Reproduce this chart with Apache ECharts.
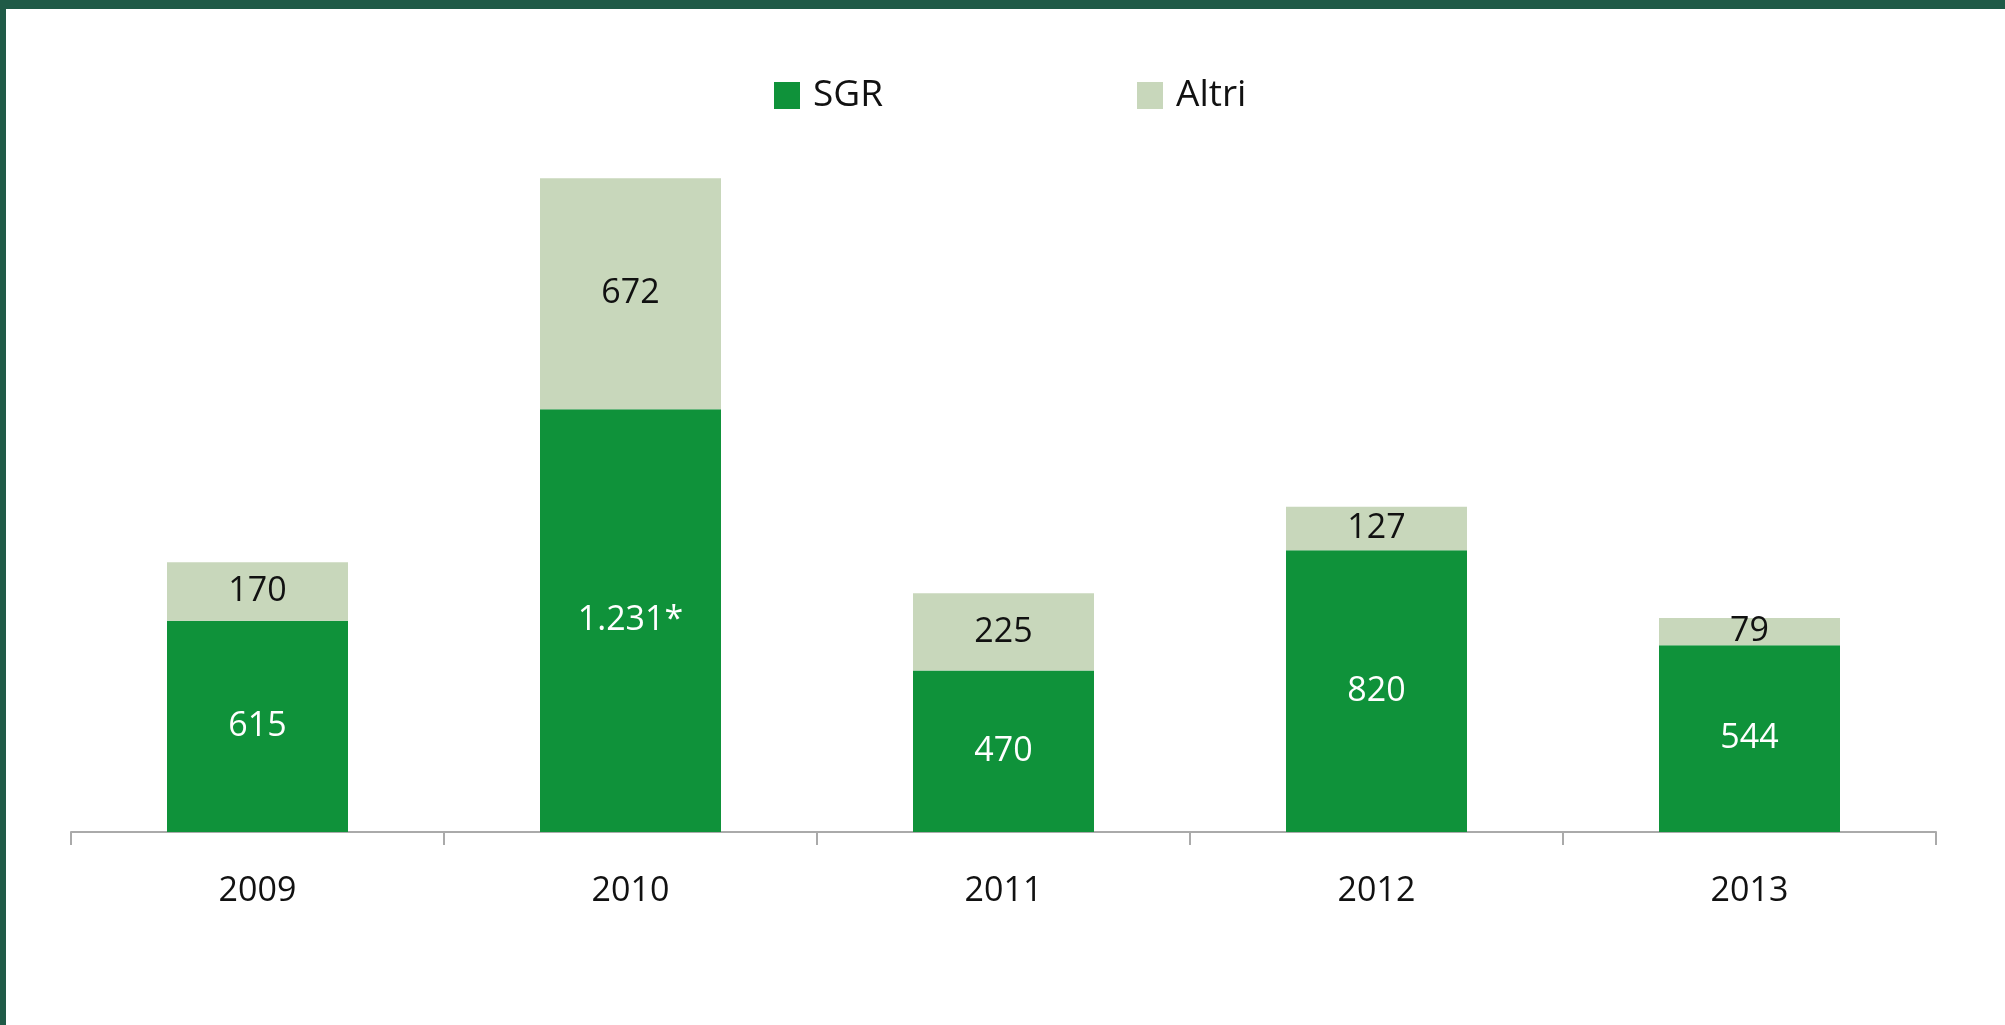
<!DOCTYPE html>
<html>
<head>
<meta charset="utf-8">
<script src="https://cdn.jsdelivr.net/npm/echarts@6/dist/echarts.min.js"></script>
<style>
    html, body { margin: 0; padding: 0; background: #fff; }
    #chart { position: absolute; left: 0; top: 0; width: 2005px; height: 1025px; }
    .edgeTop { position: absolute; left: 0; top: 0; width: 2005px; height: 9px; background: #1f5a47; }
    .edgeLeft { position: absolute; left: 0; top: 0; width: 6px; height: 1025px; background: #1f5a47; }
</style>
</head>
<body>
<div id="chart"></div>
<div class="edgeTop"></div>
<div class="edgeLeft"></div>
<script>
    var years = ['2009', '2010', '2011', '2012', '2013'];
    var sgrValues = [615, 1231, 470, 820, 544];
    var altriValues = [170, 672, 225, 127, 79];
    var sgrLabels = ['615', '1.231*', '470', '820', '544'];

    var chart = echarts.init(document.getElementById('chart'));
    var font = '"Open Sans", "DejaVu Sans", sans-serif';

    var option = {
        animation: false,
        legend: {
            data: ['SGR', 'Altri'],
            left: 769,
            top: 72,
            itemWidth: 26,
            itemHeight: 27,
            itemGap: 254,
            icon: 'rect',
            textStyle: {
                fontFamily: font,
                fontSize: 37,
                color: '#111',
                padding: [0, 0, 0, 8]
            }
        },
        grid: {
            left: 71,
            right: 69,
            top: 145,
            bottom: 193
        },
        xAxis: {
            type: 'category',
            data: years,
            axisLine: {
                lineStyle: { color: '#aaaaaa', width: 2 }
            },
            axisTick: {
                show: true,
                length: 13,
                lineStyle: { color: '#aaaaaa', width: 2 }
            },
            axisLabel: {
                margin: 42,
                fontFamily: font,
                fontSize: 34,
                color: '#111'
            }
        },
        yAxis: {
            type: 'value',
            min: 0,
            max: 2000,
            show: false,
            splitLine: { show: false }
        },
        series: [{
            name: 'SGR',
            type: 'bar',
            stack: 'tot',
            barWidth: 181,
            data: sgrValues,
            itemStyle: { color: '#0f923a' },
            label: {
                show: true,
                position: 'inside',
                fontFamily: font,
                fontSize: 34,
                color: '#ffffff',
                formatter: function(p) {
                    return sgrLabels[p.dataIndex];
                }
            }
        }, {
            name: 'Altri',
            type: 'bar',
            stack: 'tot',
            barWidth: 181,
            data: altriValues,
            itemStyle: { color: '#c8d7bb' },
            label: {
                show: true,
                position: 'inside',
                fontFamily: font,
                fontSize: 34,
                color: '#111111',
                formatter: '{c}'
            }
        }]
    };

    chart.setOption(option);
</script>
</body>
</html>
